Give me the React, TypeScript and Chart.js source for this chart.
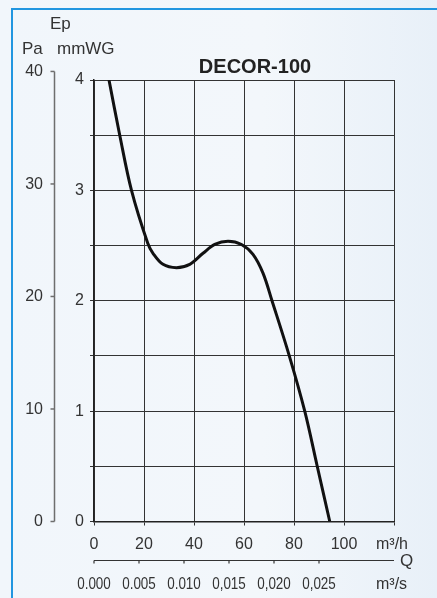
import React, { useEffect, useRef } from "react";
import { Chart, registerables } from "chart.js";

Chart.register(...registerables);

const TITLE = "DECOR-100";
const flowM3h = [6, 10.3, 15, 21.5, 23.6, 27.6, 33, 38.3, 43.6, 48.3, 53.6, 59, 63.6, 67.6, 71.2, 78, 84.3, 89.2, 94.3];
const pressureMmWG = [4.0, 3.5, 3.0, 2.52, 2.43, 2.33, 2.3, 2.33, 2.43, 2.51, 2.54, 2.51, 2.42, 2.25, 2.0, 1.51, 1.0, 0.51, 0];
const xTicksM3h = [0, 20, 40, 60, 80, 100];
const yTicksMmWG = [0, 1, 2, 3, 4];
const paTicks = [0, 10, 20, 30, 40];
const m3sTicks = [0, 0.005, 0.01, 0.015, 0.02, 0.025];
const m3sLabels = ["0.000", "0.005", "0.010", "0,015", "0,020", "0,025"];
const PA_PER_MMWG = 9.81;
const M3H_PER_M3S = 3600;

const FONT = "'Liberation Sans', Arial, sans-serif";

export default function App() {
  const ref = useRef<HTMLCanvasElement | null>(null);

  useEffect(() => {
    document.body.style.margin = "0";
    const canvas = ref.current;
    if (!canvas) return;

    const extraAxes = {
      id: "extraAxes",
      afterDraw(chart: any) {
        const ctx = chart.ctx;
        const xs = chart.scales.x;
        const ys = chart.scales.y;
        ctx.save();
        // Pa axis
        const paX = 54.5;
        const paTop = ys.getPixelForValue(40 / PA_PER_MMWG);
        const paBot = ys.getPixelForValue(0);
        ctx.strokeStyle = "#6e6e6e";
        ctx.lineWidth = 1.5;
        ctx.beginPath();
        ctx.moveTo(paX, paTop);
        ctx.lineTo(paX, paBot);
        ctx.stroke();
        ctx.font = `16px ${FONT}`;
        ctx.fillStyle = "#333";
        ctx.textAlign = "right";
        ctx.textBaseline = "middle";
        paTicks.forEach((p) => {
          const py = ys.getPixelForValue(p / PA_PER_MMWG);
          ctx.beginPath();
          ctx.moveTo(paX - 4, py);
          ctx.lineTo(paX, py);
          ctx.stroke();
          ctx.fillText(String(p), 43, py + 0.5);
        });

        // m3/s axis
        const ly = 560.5;
        ctx.strokeStyle = "#333";
        ctx.lineWidth = 1.2;
        ctx.beginPath();
        ctx.moveTo(xs.getPixelForValue(0), ly);
        ctx.lineTo(xs.right, ly);
        ctx.stroke();
        ctx.font = `16px ${FONT}`;
        ctx.textAlign = "center";
        m3sTicks.forEach((v, i) => {
          const px = xs.getPixelForValue(v * M3H_PER_M3S);
          ctx.beginPath();
          ctx.moveTo(px, ly);
          ctx.lineTo(px, ly + 3);
          ctx.stroke();
          ctx.save();
          ctx.translate(px, 585);
          ctx.scale(0.84, 1);
          ctx.fillText(m3sLabels[i], 0, 0);
          ctx.restore();
        });

        // labels
        ctx.font = `17px ${FONT}`;
        ctx.textAlign = "left";
        ctx.fillText("Ep", 50, 24);
        ctx.fillText("Pa", 22, 49);
        ctx.fillText("mmWG", 57, 49);
        ctx.fillText("Q", 400, 561);
        ctx.font = `16px ${FONT}`;
        ctx.fillText("m³/h", 376, 545);
        ctx.fillText("m³/s", 376, 585);
        ctx.font = `bold 20px ${FONT}`;
        ctx.textAlign = "center";
        ctx.fillStyle = "#222";
        ctx.fillText(TITLE, 255, 67.5);
        ctx.restore();
      },
    };

    const chart = new Chart(canvas, {
      type: "line",
      data: {
        datasets: [
          {
            data: flowM3h.map((q, i) => ({ x: q, y: pressureMmWG[i] })),
            borderColor: "#111",
            borderWidth: 3,
            pointRadius: 0,
            tension: 0.35,
            fill: false,
          },
        ],
      },
      options: {
        animation: false,
        responsive: false,
        layout: { padding: { top: 80, right: 43, left: 0, bottom: 0 } },
        plugins: { legend: { display: false }, tooltip: { enabled: false } },
        scales: {
          x: {
            type: "linear",
            min: 0,
            max: 120,
            afterFit: (s: any) => {
              s.height = 76.5;
            },
            afterBuildTicks: (s: any) => {
              s.ticks = [0, 20, 40, 60, 80, 100, 120].map((v) => ({ value: v }));
            },
            ticks: {
              callback: (v: any) => (xTicksM3h.includes(Number(v)) ? String(v) : ""),
              font: { family: FONT, size: 16 },
              color: "#333",
              padding: 9,
              maxRotation: 0,
              autoSkip: false,
            },
            grid: { color: "#333", lineWidth: 1, tickLength: 4 },
            border: { color: "#222", width: 1.5 },
          },
          y: {
            type: "linear",
            min: 0,
            max: 4,
            afterFit: (s: any) => {
              s.width = 94;
            },
            afterBuildTicks: (s: any) => {
              s.ticks = [0, 0.5, 1, 1.5, 2, 2.5, 3, 3.5, 4].map((v) => ({ value: v }));
            },
            ticks: {
              callback: (v: any) => (yTicksMmWG.includes(Number(v)) ? String(v) : ""),
              font: { family: FONT, size: 16 },
              color: "#333",
              padding: 6,
              autoSkip: false,
            },
            grid: { color: "#333", lineWidth: 1, tickLength: 4 },
            border: { color: "#222", width: 1.5 },
          },
        },
      },
      plugins: [extraAxes],
    } as any);

    return () => chart.destroy();
  }, []);

  return (
    <div
      style={{
        position: "fixed",
        left: 0,
        top: 0,
        width: 437,
        height: 598,
        overflow: "hidden",
        background: "linear-gradient(90deg, #f1f6fb 0%, #f3f7fb 60%, #e8f0f8 100%)",
      }}
    >
      <div
        style={{
          position: "absolute",
          left: 11,
          top: 8,
          width: 500,
          height: 700,
          borderLeft: "2px solid #2196e0",
          borderTop: "2px solid #2196e0",
        }}
      />
      <canvas ref={ref} width={437} height={598} style={{ position: "absolute", left: 0, top: 0 }} />
    </div>
  );
}
